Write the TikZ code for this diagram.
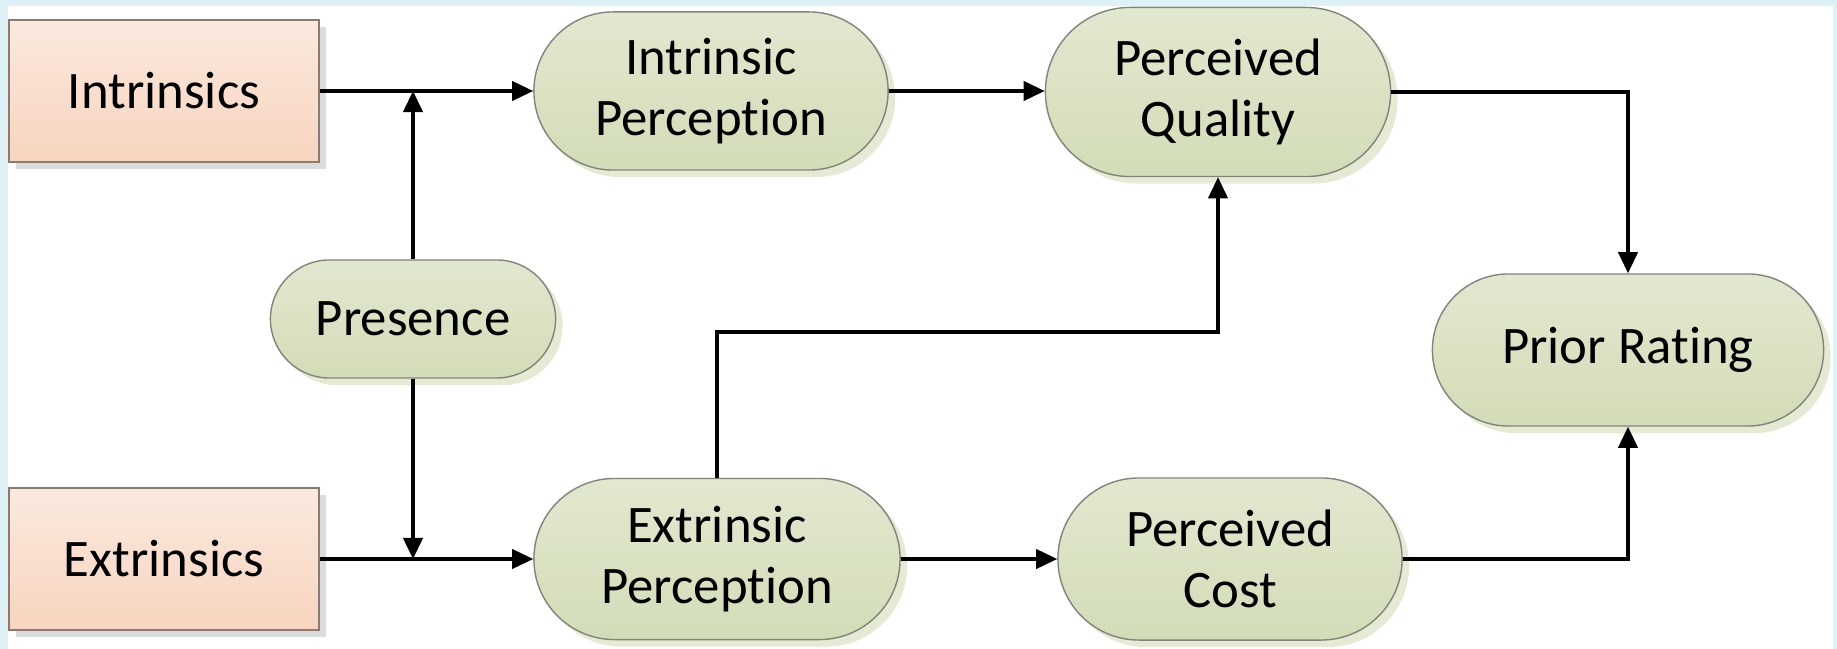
\documentclass[tikz,border=0pt]{standalone}
\usepackage{fontspec}
\setmainfont{Carlito}[Ligatures={NoCommon,NoRare},Contextuals=NoAlternate]
\usetikzlibrary{arrows.meta,shapes.misc,shadows}

\definecolor{bgblue}{HTML}{DDF1F7}
\definecolor{peachtop}{HTML}{FBE9DE}
\definecolor{peachbot}{HTML}{F7D4BF}
\definecolor{peachline}{HTML}{8C7A70}
\definecolor{sagetop}{HTML}{E2E8D0}
\definecolor{sagebot}{HTML}{D3DCB8}
\definecolor{sageline}{HTML}{80857A}
\definecolor{sageshadow}{HTML}{E5EAD5}
\definecolor{greyshadow}{HTML}{DCDCDC}

\tikzset{
  input/.style={rectangle, draw=peachline, top color=peachtop, bottom color=peachbot,
    minimum width=3.1cm, minimum height=1.42cm,
    drop shadow={shadow xshift=0.07cm, shadow yshift=-0.07cm, fill=greyshadow, opacity=1}},
  stage/.style={rounded rectangle, draw=sageline, top color=sagetop, bottom color=sagebot,
    align=center, inner sep=0pt,
    drop shadow={shadow xshift=0.07cm, shadow yshift=-0.07cm, fill=sageshadow, opacity=1}},
  flow/.style={line width=0.9pt, -{Triangle[length=6pt,width=5.5pt]}},
}

\begin{document}
\begin{tikzpicture}[x=0.01cm, y=-0.01cm, font=\fontsize{15}{17.5}\selectfont]
% frame
\fill[bgblue] (0,0) rectangle (1837,649);
\fill[white] (8,6) rectangle (1833,649);
% inputs
\node[input] (intr) at (164,91) {Intrinsics};
\node[input] (extr) at (164,559) {Extrinsics};
% stages
\node[stage, minimum width=3.54cm, minimum height=1.58cm] (iperc) at (711,91) {Intrinsic\\Perception};
\node[stage, minimum width=3.45cm, minimum height=1.69cm] (pqual) at (1218,92) {Perceived\\Quality};
\node[stage, minimum width=2.85cm, minimum height=1.18cm] (pres) at (413,319) {Presence};
\node[stage, minimum width=3.66cm, minimum height=1.61cm] (eperc) at (717,559) {Extrinsic\\Perception};
\node[stage, minimum width=3.44cm, minimum height=1.62cm] (pcost) at (1230,559) {Perceived\\Cost};
\node[stage, minimum width=3.91cm, minimum height=1.52cm] (prior) at (1628,350) {Prior Rating};
\coordinate (bend) at (717,332);
% connectors
\draw[flow] (intr.east) -- (iperc.west);
\draw[flow] (extr.east) -- (eperc.west);
\draw[flow] (pres.north) -- (pres.north |- intr.east);
\draw[flow] (pres.south) -- (pres.south |- extr.east);
\draw[flow] (iperc.east) -- (iperc.east -| pqual.west);
\draw[flow] (eperc.east) -- (pcost.west);
\draw[flow] (eperc.north) -- (bend) -| (pqual.south);
\draw[flow] (pqual.east) -| (prior.north);
\draw[flow] (pcost.east) -| (prior.south);
\end{tikzpicture}
\end{document}
